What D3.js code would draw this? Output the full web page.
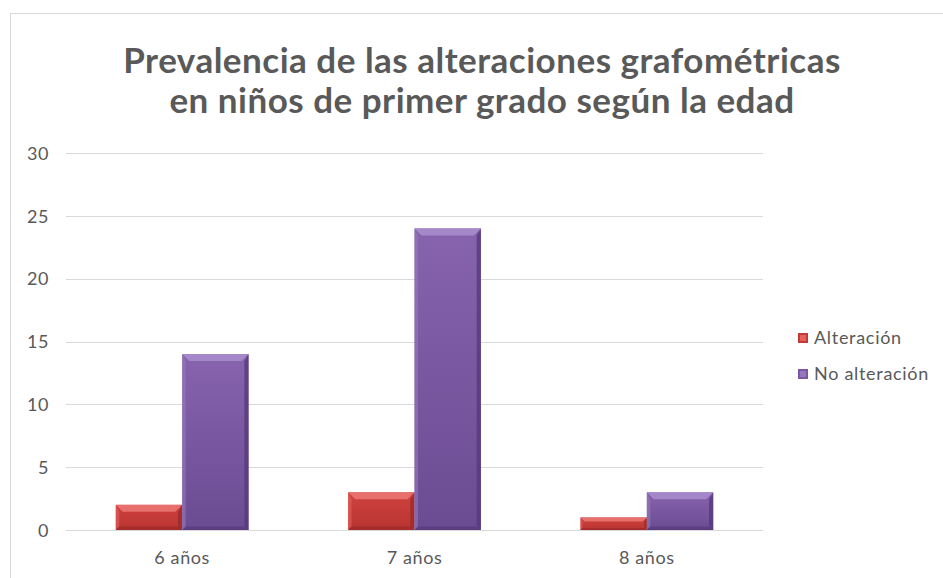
<!DOCTYPE html>
<html>
<head>
<meta charset="utf-8">
<script src="https://cdn.jsdelivr.net/npm/d3@7"></script>
<style>
  body { margin: 0; background: #fff; }
  svg text { font-family: Lato, "Noto Sans", sans-serif; fill: #595959; }
  .grid line { stroke: #d9d9d9; }
  .axis text { font-size: 18px; letter-spacing: 0.6px; }
</style>
</head>
<body>
<div id="chart"></div>
<script>
(function () {
  const categories = ["6 años", "7 años", "8 años"];
  const seriesNames = ["Alteración", "No alteración"];
  const alteracion = [2, 3, 1];
  const noAlteracion = [14, 24, 3];
  const yTicks = [0, 5, 10, 15, 20, 25, 30];
  const titleLines = ["Prevalencia de las alteraciones grafométricas", "en niños de primer grado según la edad"];

  const W = 943, H = 578;
  const margin = {top: 153, right: 180, bottom: 48, left: 66};
  const width = 763 - margin.left;
  const height = 530 - margin.top;

  const palette = [
    {base: "#c43a36", light: "#e4615d", top: "#ea7471", dark: "#9c2a27", grad: ["#cf423e", "#b83431"]},
    {base: "#7a58a2", light: "#9679bb", top: "#a78ccb", dark: "#56397a", grad: ["#8863ae", "#6a4c92"]}
  ];

  const svg = d3.select("#chart").append("svg")
    .attr("width", W)
    .attr("height", H);

  svg.append("rect").attr("width", W).attr("height", H).attr("fill", "#fff");

  // chart frame
  svg.append("rect")
    .attr("x", 10.5).attr("y", 13.5)
    .attr("width", W).attr("height", H)
    .attr("fill", "none")
    .attr("stroke", "#d9d9d9");

  const defs = svg.append("defs");
  palette.forEach(function (p, i) {
    const g = defs.append("linearGradient")
      .attr("id", "grad" + i)
      .attr("x1", 0).attr("y1", 0).attr("x2", 0).attr("y2", 1);
    g.append("stop").attr("offset", "0%").attr("stop-color", p.grad[0]);
    g.append("stop").attr("offset", "100%").attr("stop-color", p.grad[1]);
  });

  // title
  svg.append("text")
    .attr("text-anchor", "middle")
    .style("font-size", "35px")
    .style("font-weight", "bold")
    .style("letter-spacing", "0.5px")
    .selectAll("tspan")
    .data(titleLines)
    .join("tspan")
      .attr("x", 482)
      .attr("y", function (d, i) { return 73 + i * 40; })
      .text(function (d) { return d; });

  const container = svg.append("g")
    .attr("transform", "translate(" + margin.left + "," + margin.top + ")");

  const x0 = d3.scaleBand()
    .domain(categories)
    .range([0, width]);

  // gap width 150% -> two bars plus 1.5 bar of gap per band
  const x1 = d3.scaleBand()
    .domain(seriesNames)
    .range([x0.bandwidth() * 0.75 / 3.5, x0.bandwidth() - x0.bandwidth() * 0.75 / 3.5]);

  const y = d3.scaleLinear()
    .domain([0, 30])
    .range([height, 0]);

  // gridlines
  container.append("g")
    .attr("class", "grid")
    .selectAll("line")
    .data(yTicks)
    .join("line")
      .attr("x1", 0).attr("x2", width)
      .attr("y1", function (d) { return Math.round(y(d)) + 0.5; })
      .attr("y2", function (d) { return Math.round(y(d)) + 0.5; });

  const yAxis = container.append("g")
    .attr("class", "axis")
    .call(d3.axisLeft(y).tickValues(yTicks).tickSize(0).tickPadding(17));
  yAxis.select(".domain").remove();
  yAxis.selectAll("text").attr("dy", "0.35em");

  const xAxis = container.append("g")
    .attr("class", "axis")
    .attr("transform", "translate(0," + height + ")")
    .call(d3.axisBottom(x0).tickSize(0).tickPadding(21));
  xAxis.select(".domain").remove();

  const rows = categories.map(function (c, i) {
    return {cat: c, values: [alteracion[i], noAlteracion[i]]};
  });

  const groups = container.selectAll(".cat")
    .data(rows)
    .join("g")
      .attr("class", "cat")
      .attr("transform", function (d) { return "translate(" + x0(d.cat) + ",0)"; });

  groups.each(function (row) {
    const g = d3.select(this);
    row.values.forEach(function (v, si) {
      const p = palette[si];
      const bx = x1(seriesNames[si]);
      const bw = x1.bandwidth();
      const by = y(v);
      const bh = y(0) - y(v);
      const b = Math.min(7, bh / 3);

      g.append("rect")
        .attr("x", bx).attr("y", by)
        .attr("width", bw).attr("height", bh)
        .attr("fill", "url(#grad" + si + ")");

      // bevel: top
      g.append("polygon")
        .attr("points", [[bx, by], [bx + bw, by], [bx + bw - b, by + b], [bx + b, by + b]].join(" "))
        .attr("fill", p.top).attr("opacity", 0.9);
      // left
      g.append("polygon")
        .attr("points", [[bx, by], [bx + b * 0.5, by + b], [bx + b * 0.5, by + bh - b * 0.5], [bx, by + bh]].join(" "))
        .attr("fill", p.light).attr("opacity", 0.6);
      // right
      g.append("polygon")
        .attr("points", [[bx + bw, by], [bx + bw - b * 0.6, by + b], [bx + bw - b * 0.6, by + bh - b * 0.5], [bx + bw, by + bh]].join(" "))
        .attr("fill", p.dark).attr("opacity", 0.8);
      // bottom
      g.append("polygon")
        .attr("points", [[bx, by + bh], [bx + b * 0.5, by + bh - b * 0.5], [bx + bw - b * 0.6, by + bh - b * 0.5], [bx + bw, by + bh]].join(" "))
        .attr("fill", p.dark).attr("opacity", 0.7);
    });
  });

  // legend
  const legend = svg.append("g")
    .attr("transform", "translate(798,330)");
  const items = legend.selectAll("g")
    .data(seriesNames)
    .join("g")
      .attr("transform", function (d, i) { return "translate(0," + i * 36 + ")"; });
  items.append("rect")
    .attr("width", 10).attr("height", 10)
    .attr("y", 3)
    .attr("fill", function (d, i) { return palette[i].base; });
  items.append("rect")
    .attr("x", 2).attr("y", 5)
    .attr("width", 6).attr("height", 6)
    .attr("fill", function (d, i) { return palette[i].light; });
  items.append("text")
    .attr("x", 16).attr("y", 14)
    .style("font-size", "18px")
    .style("letter-spacing", "0.7px")
    .text(function (d) { return d; });
})();
</script>
</body>
</html>
